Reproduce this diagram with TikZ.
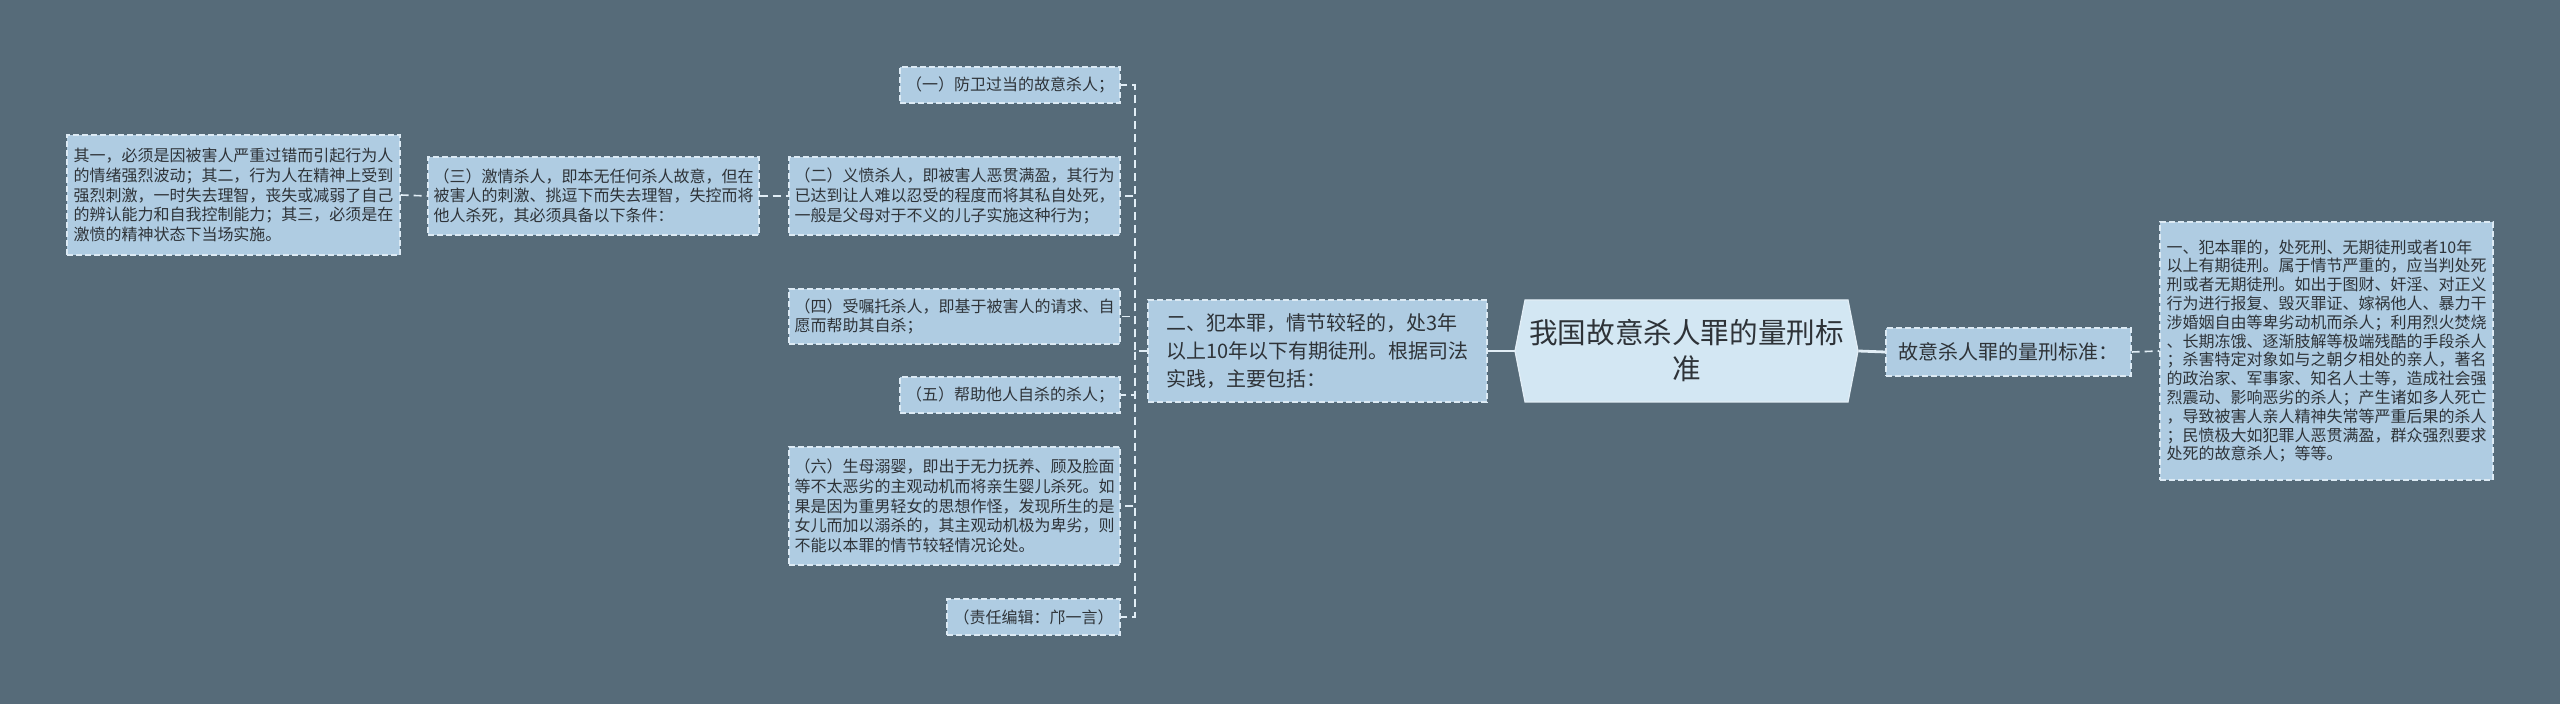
\documentclass[tikz,border=0pt]{standalone}
\usepackage{fontspec}
\setmainfont{Noto Sans CJK SC}
\usetikzlibrary{positioning,calc}
\definecolor{bgcol}{HTML}{566B79}
\definecolor{boxfill}{HTML}{AFCCE2}
\definecolor{boxline}{HTML}{DCEAF4}
\definecolor{rootfill}{HTML}{D3E7F3}
\definecolor{linecol}{HTML}{E2EEF6}
\definecolor{textcol}{HTML}{2E3338}

\begin{document}
\begin{tikzpicture}[x=0.5pt, y=-0.5pt]
        \tikzset{leaf/.style={draw=boxline, line width=0.7pt, dash pattern=on 3pt off 1.5pt, fill=boxfill, text=textcol, align=left, inner sep=2pt, font=\fontsize{8}{9.9}\selectfont},
                 midbox/.style={leaf, font=\fontsize{10}{14}\selectfont},
                 link/.style={draw=linecol, line width=0.8pt, dash pattern=on 4pt off 2.5pt},
                 trunk/.style={draw=linecol, line width=1.4pt}}
        % background and page size
        \fill[bgcol] (0,0) rectangle (2560,704);
        \useasboundingbox (0,0) rectangle (2560,704);
        % root hexagon
        \filldraw[fill=rootfill, draw=linecol, line width=0.6pt] (1515,351) -- (1525,300) -- (1848,300) -- (1858,351) -- (1848,402) -- (1525,402) -- cycle;
        \node[minimum width=171.5pt, minimum height=51pt, align=center, text=textcol, font=\fontsize{14.3}{18}\selectfont] (root) at (1686.5,351) {我国故意杀人罪的量刑标\\准};
        % right side
        \node[midbox, minimum width=122.5pt, minimum height=24pt] (std) at (2008.5,352) {故意杀人罪的量刑标准：};
        \node[leaf, minimum width=166.5pt, minimum height=129pt, font=\fontsize{8}{9.4}\selectfont] (death) at (2326.5,351) {一、犯本罪的，处死刑、无期徒刑或者10年\\以上有期徒刑。属于情节严重的，应当判处死\\刑或者无期徒刑。如出于图财、奸淫、对正义\\行为进行报复、毁灭罪证、嫁祸他人、暴力干\\涉婚姻自由等卑劣动机而杀人；利用烈火焚烧\\、长期冻饿、逐渐肢解等极端残酷的手段杀人\\；杀害特定对象如与之朝夕相处的亲人，著名\\的政治家、军事家、知名人士等，造成社会强\\烈震动、影响恶劣的杀人；产生诸如多人死亡\\，导致被害人亲人精神失常等严重后果的杀人\\；民愤极大如犯罪人恶贯满盈，群众强烈要求\\处死的故意杀人；等等。};
        % left side
        \node[midbox, minimum width=169.5pt, minimum height=51pt] (light) at (1317.5,351) {二、犯本罪，情节较轻的，处3年\\以上10年以下有期徒刑。根据司法\\实践，主要包括：};
        \coordinate (spine) at (1135,351);
        \node[leaf, minimum width=110pt, minimum height=18pt] (c1) at (1010,85) {（一）防卫过当的故意杀人；};
        \node[leaf, minimum width=165.5pt, minimum height=39pt] (c2) at (954.5,196) {（二）义愤杀人，即被害人恶贯满盈，其行为\\已达到让人难以忍受的程度而将其私自处死，\\一般是父母对于不义的儿子实施这种行为；};
        \node[leaf, minimum width=165.5pt, minimum height=27.5pt] (c4) at (954.5,316.5) {（四）受嘱托杀人，即基于被害人的请求、自\\愿而帮助其自杀；};
        \node[leaf, minimum width=110pt, minimum height=18pt] (c5) at (1010,395) {（五）帮助他人自杀的杀人；};
        \node[leaf, minimum width=165.5pt, minimum height=59pt] (c6) at (954.5,506) {（六）生母溺婴，即出于无力抚养、顾及脸面\\等不太恶劣的主观动机而将亲生婴儿杀死。如\\果是因为重男轻女的思想作怪，发现所生的是\\女儿而加以溺杀的，其主观动机极为卑劣，则\\不能以本罪的情节较轻情况论处。};
        \node[leaf, minimum width=86.5pt, minimum height=18pt] (editor) at (1033.5,617) {（责任编辑：邝一言）};
        \node[leaf, minimum width=165.5pt, minimum height=39pt] (c3) at (593.5,196) {（三）激情杀人，即本无任何杀人故意，但在\\被害人的刺激、挑逗下而失去理智，失控而将\\他人杀死，其必须具备以下条件：};
        \node[leaf, minimum width=166.5pt, minimum height=60pt] (cond) at (233.5,195) {其一，必须是因被害人严重过错而引起行为人\\的情绪强烈波动；其二，行为人在精神上受到\\强烈刺激，一时失去理智，丧失或减弱了自己\\的辨认能力和自我控制能力；其三，必须是在\\激愤的精神状态下当场实施。};
        % connectors
        \draw[trunk] (root.east) -- (std.west);
        \draw[trunk] (root.west) -- (light.east);
        \draw[link] (std.east) -- (death.west);
        \draw[link] (light.west) -- (spine) |- (c1.east);
        \draw[link] (light.west) -- (spine) |- (c2.east);
        \draw[link] (light.west) -- (spine) |- (c4.east);
        \draw[link] (light.west) -- (spine) |- (c5.east);
        \draw[link] (light.west) -- (spine) |- (c6.east);
        \draw[link] (light.west) -- (spine) |- (editor.east);
        \draw[link] (c3.east) -- (c2.west);
        \draw[link] (cond.east) -- (c3.west);
    \end{tikzpicture}
\end{document}
